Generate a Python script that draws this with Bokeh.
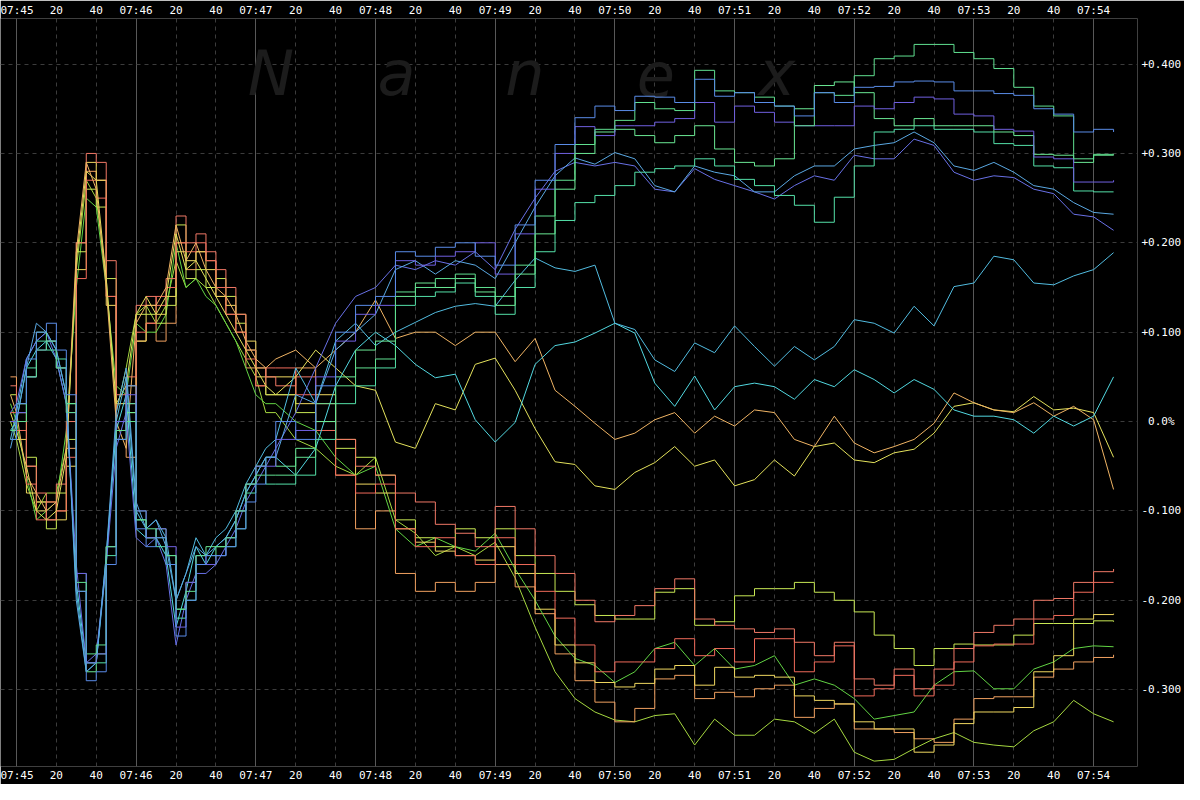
from bokeh.plotting import figure
from bokeh.models import FixedTicker, LinearAxis, Grid, Label, Range1d
from bokeh.embed import file_html
from bokeh.resources import INLINE

# time axis: seconds after 07:45:00
t_sec = [-3, 0, 5, 10, 15, 20, 25, 30, 35, 40, 45, 50, 55, 60, 65, 70, 75, 80, 85, 90,
         95, 100, 105, 110, 115, 120, 125,
         130, 140, 150, 160, 170, 180, 190, 200, 210, 220, 230, 240, 250, 260, 270, 280,
         290, 300, 310, 320, 330, 340, 350, 360, 370, 380, 390, 400, 410, 420, 430, 440,
         450, 460, 470, 480, 490, 500, 510, 520, 530, 540, 550]

# x tick positions (seconds) and their labels
x_ticks = [0, 20, 40, 60, 80, 100, 120, 140, 160, 180, 200, 220, 240, 260, 280, 300,
           320, 340, 360, 380, 400, 420, 440, 460, 480, 500, 520, 540]
x_tick_labels = ["07:45", "20", "40", "07:46", "20", "40", "07:47", "20", "40",
                 "07:48", "20", "40", "07:49", "20", "40", "07:50", "20", "40",
                 "07:51", "20", "40", "07:52", "20", "40", "07:53", "20", "40", "07:54"]
minute_ticks = [0, 60, 120, 180, 240, 300, 360, 420, 480, 540]

# y ticks in thousandths of a percent and labels
y_ticks = [-300, -200, -100, 0, 100, 200, 300, 400]
y_tick_labels = ["-0.300", "-0.200", "-0.100", "\u00a00.0%", "+0.100", "+0.200", "+0.300", "+0.400"]

# series values (thousandths of a percent)
r1 = [40, 10, -50, -80, -110, -70, 0, 200, 300, 290, 180, 30, 20, 130, 140, 130, 160, 230, 200, 210, 190, 170, 150, 120, 80, 60, 50,
      40, 50, 20, -20, -50, -60, -80, -90, -115, -125, -140, -95, -120, -150, -170, -200,
      -224, -217, -206, -187, -176, -221, -228, -232, -236, -232, -247, -262, -247, -288, -295, -277, -299, -277, -254, -236, -228, -221, -200, -198, -180, -168, -165]
r2 = [10, -10, -70, -110, -90, -100, -40, 160, 270, 250, 140, -10, 50, 100, 110, 140, 150, 200, 190, 200, 180, 150, 120, 100, 70, 40, 60,
      60, 30, -10, -60, -80, -70, -120, -140, -130, -150, -160, -130, -160, -190, -220, -250,
      -280, -269, -269, -254, -243, -262, -254, -269, -243, -243, -280, -269, -251, -307, -299, -284, -307, -295, -269, -251, -249, -249, -221, -217, -191, -180, -180]
yg1 = [30, 20, -40, -90, -120, -80, -20, 190, 260, 240, 160, 0, 10, 120, 120, 110, 130, 220, 160, 170, 150, 160, 140, 110, 80, 60, 30,
       30, 10, 0, -30, -40, -60, -110, -130, -140, -120, -130, -120, -150, -170, -190, -205,
       -217, -221, -221, -191, -187, -228, -224, -195, -187, -187, -180, -191, -200, -213, -239, -254, -273, -254, -249, -250, -250, -239, -226, -226, -226, -223, -224]
y2 = [0, -20, -80, -100, -90, -110, -50, 170, 290, 270, 130, 20, 40, 90, 130, 120, 140, 190, 180, 190, 170, 140, 130, 120, 90, 50, 50,
      50, 20, 30, -20, -70, -80, -120, -135, -145, -150, -155, -140, -170, -210, -250, -270,
      -292, -297, -293, -277, -273, -295, -275, -286, -284, -286, -307, -312, -316, -336, -344, -344, -370, -362, -338, -325, -325, -320, -280, -262, -221, -216, -215]
g4 = [20, 0, -60, -110, -100, -90, -10, 150, 250, 240, 150, 40, 30, 110, 100, 100, 120, 200, 150, 160, 140, 130, 110, 90, 60, 30, 20,
      20, 0, -10, -40, -60, -50, -120, -140, -130, -140, -145, -125, -165, -200, -240, -265,
      -273, -292, -280, -254, -247, -273, -254, -277, -273, -262, -295, -288, -295, -310, -333, -329, -325, -295, -280, -279, -299, -299, -277, -269, -254, -251, -252]
o2 = [50, 10, -50, -90, -110, -100, -30, 200, 280, 270, 140, -20, -40, 90, 110, 90, 110, 200, 170, 190, 180, 140, 120, 100, 60, 40, 30,
      30, 60, 0, -60, -120, -100, -170, -190, -180, -190, -180, -160, -185, -215, -260, -290,
      -314, -336, -321, -288, -284, -310, -303, -308, -299, -295, -331, -321, -316, -344, -344, -348, -355, -359, -333, -310, -308, -308, -286, -277, -269, -264, -261]
yg2 = [0, -20, -70, -100, -80, -80, -30, 170, 270, 250, 160, 10, 60, 120, 130, 110, 130, 180, 150, 160, 150, 130, 110, 90, 70, 50, 10,
       10, -20, -30, -50, -60, -40, -110, -125, -150, -140, -150, -135, -175, -230, -280, -310,
       -325, -334, -336, -329, -327, -362, -333, -351, -351, -333, -336, -349, -333, -370, -380, -378, -366, -355, -348, -359, -362, -364, -346, -336, -312, -327, -336]
o1 = [30, 10, -60, -80, -100, -90, -30, 190, 290, 260, 150, 0, -30, 110, 130, 130, 150, 220, 180, 200, 170, 150, 140, 120, 90, 70, 60,
      70, 80, 60, 80, 100, 136, 93, 100, 100, 85, 100, 100, 67, 93, 35, 17,
      -2, -20, -13, 2, 10, -13, 6, -5, 13, 10, -20, -28, 6, -24, -35, -28, -20, -2, 32, 21, 13, 10, 21, 6, 17, 2, -76]
y1 = [10, -10, -50, -100, -110, -100, -40, 180, 280, 270, 160, 20, 40, 120, 140, 120, 140, 210, 170, 180, 160, 140, 120, 100, 80, 60, 40,
      30, 50, 80, 60, 40, 35, -23, -30, 20, 13, 64, 71, 35, -8, -45, -48,
      -72, -76, -57, -46, -28, -50, -43, -72, -65, -43, -61, -28, -24, -43, -46, -35, -31, -13, 17, 21, 13, 11, 28, 13, 15, 10, -40]
b1 = [-20, 20, 70, 100, 110, 80, 30, -190, -290, -280, -160, -20, 40, -120, -140, -130, -160, -240, -200, -160, -150, -150, -140, -120, -90, -70, -40,
      0, -20, 40, 100, 130, 140, 190, 185, 195, 200, 185, 175, 220, 270, 310, 340,
      353, 348, 364, 363, 357, 383, 364, 368, 357, 353, 342, 368, 357, 374, 375, 380, 381, 380, 370, 370, 367, 365, 350, 344, 324, 327, 324]
p1 = [0, 10, 50, 80, 90, 60, 10, -170, -270, -260, -140, 0, 30, -100, -130, -120, -140, -230, -180, -150, -160, -150, -130, -100, -70, -50, -50,
      -20, -10, 50, 90, 120, 130, 180, 175, 185, 190, 200, 165, 210, 260, 300, 330,
      320, 331, 331, 335, 339, 357, 335, 353, 346, 335, 331, 331, 331, 353, 350, 357, 363, 361, 344, 342, 327, 325, 296, 294, 268, 268, 270]
b2 = [-30, 0, 60, 110, 100, 80, 30, -200, -280, -270, -150, 10, 60, -90, -120, -110, -140, -200, -170, -140, -150, -140, -130, -110, -80, -60, -40,
      -40, 30, 20, 80, 100, 120, 170, 180, 165, 180, 175, 160, 200, 240, 275, 295,
      288, 301, 294, 264, 257, 286, 279, 275, 257, 257, 275, 286, 286, 305, 309, 312, 324, 312, 286, 281, 290, 279, 264, 260, 245, 234, 232]
p2 = [10, 20, 70, 90, 100, 70, 20, -160, -270, -260, -160, -30, 10, -130, -140, -130, -160, -250, -200, -170, -170, -160, -140, -120, -90, -70, -50,
      -30, 10, 60, 110, 140, 150, 175, 170, 180, 175, 190, 170, 215, 250, 280, 290,
      286, 290, 286, 260, 257, 283, 271, 264, 257, 249, 264, 275, 270, 298, 294, 294, 316, 309, 279, 270, 275, 273, 260, 255, 232, 229, 214]
g1 = [-10, 0, 50, 80, 90, 60, 10, -180, -260, -250, -140, -10, 0, -110, -120, -130, -150, -210, -190, -150, -150, -140, -130, -100, -70, -60, -60,
      -60, -40, 20, 40, 60, 70, 145, 150, 160, 165, 150, 140, 175, 230, 270, 310,
      327, 337, 357, 350, 348, 393, 370, 368, 363, 353, 331, 368, 365, 387, 406, 409, 422, 422, 413, 406, 395, 374, 353, 342, 294, 299, 299]
g2 = [-20, 10, 60, 90, 80, 70, 20, -170, -270, -270, -150, 0, 20, -100, -130, -140, -160, -220, -200, -160, -160, -150, -140, -120, -80, -50, -70,
      -70, -60, -20, 20, 40, 60, 130, 140, 145, 155, 140, 120, 150, 190, 225, 245,
      253, 264, 279, 283, 286, 294, 286, 271, 264, 253, 242, 223, 251, 286, 324, 327, 331, 327, 327, 324, 311, 309, 286, 284, 258, 257, 257]
g3 = [0, 20, 50, 100, 90, 60, 20, -190, -280, -260, -140, -20, 10, -110, -130, -120, -150, -210, -180, -150, -140, -140, -130, -100, -70, -50, -40,
      -50, -30, 0, 50, 80, 90, 140, 155, 150, 160, 145, 130, 165, 210, 260, 300,
      324, 327, 320, 312, 320, 331, 305, 290, 286, 294, 350, 376, 380, 368, 339, 331, 339, 331, 331, 331, 324, 320, 299, 298, 290, 298, 299]
c1 = [-20, 10, 70, 90, 100, 80, 30, -190, -280, -270, -160, 0, 50, -100, -120, -110, -130, -200, -170, -130, -150, -130, -120, -100, -70, -50, -30,
      -20, 60, 20, 90, 110, 85, 100, 111, 122, 129, 132, 129, 158, 183, 172, 168,
      175, 110, 103, 69, 56, 88, 77, 107, 84, 62, 84, 69, 84, 114, 110, 99, 129, 107, 151, 155, 185, 181, 155, 153, 163, 170, 189]
c2 = [-10, 0, 60, 80, 90, 70, 20, -180, -270, -270, -150, -10, 30, -120, -130, -130, -150, -230, -190, -140, -160, -140, -130, -110, -80, -60, -40,
      -40, -60, -30, 40, 80, 100, 85, 64, 49, 53, 2, -23, -1, 64, 85, 89,
      99, 110, 99, 43, 17, 51, 13, 39, 43, 39, 25, 47, 39, 58, 47, 32, 47, 36, 13, 6, 6, 2, -13, 6, -5, 6, 50]

series = [
    (yg2, "#a6d840", "line"), (o2, "#f0a060", "step"), (g4, "#62d444", "line"),
    (y2, "#f0d860", "step"), (yg1, "#c8e854", "step"), (r2, "#f06a5a", "step"),
    (r1, "#f07866", "step"), (y1, "#e4e25c", "line"), (o1, "#f0b464", "line"),
    (c2, "#52d8e0", "line"), (c1, "#52bce0", "line"),
    (p2, "#6870e6", "line"), (b2, "#5aa8e2", "line"), (g2, "#54e0a8", "step"),
    (g3, "#6ae894", "step"), (p1, "#7060e0", "step"), (g1, "#60e090", "step"),
    (b1, "#5a8ce8", "step"),
]
for vals, _, _ in series:
    if len(vals) != len(t_sec):
        raise ValueError("length mismatch %d" % len(vals))

p = figure(width=1184, height=784, output_backend="svg", toolbar_location=None,
           x_axis_location=None, y_axis_location=None,
           x_range=Range1d(-8, 562), y_range=Range1d(-386, 451),
           min_border_left=0, min_border_right=0, min_border_top=0, min_border_bottom=0)
p.background_fill_color = "black"
p.border_fill_color = "black"
p.outline_line_color = None
p.grid.visible = False

# grids
minor_ticks = [t for t in x_ticks if t not in minute_ticks]
p.add_layout(Grid(dimension=0, ticker=FixedTicker(ticks=minor_ticks),
                  grid_line_color="#3c3c3c", grid_line_dash="4 4", grid_line_width=1))
p.add_layout(Grid(dimension=0, ticker=FixedTicker(ticks=minute_ticks),
                  grid_line_color="#585858", grid_line_width=1))
p.add_layout(Grid(dimension=1, ticker=FixedTicker(ticks=y_ticks),
                  grid_line_color="#3c3c3c", grid_line_dash="4 4", grid_line_width=1))

# watermark
for letter, lx in zip(["N", "a", "n", "e", "x"], [116, 181, 245, 311, 372]):
    p.add_layout(Label(x=lx, y=389, text=letter, text_font="DejaVu Sans",
                       text_font_style="italic", text_font_size="62px",
                       text_color="#1c1c1c", text_baseline="alphabetic",
                       level="underlay"))

for vals, col, style in series:
    if style == "step":
        p.step(t_sec, vals, mode="after", line_color=col, line_width=1)
    else:
        p.line(t_sec, vals, line_color=col, line_width=1)

def style_axis(ax, standoff):
    ax.axis_line_color = None
    ax.major_tick_line_color = None
    ax.minor_tick_line_color = None
    ax.major_tick_out = 0
    ax.major_tick_in = 0
    ax.major_label_text_color = "white"
    ax.major_label_text_font = "DejaVu Sans Mono"
    ax.major_label_text_font_size = "11px"
    ax.major_label_standoff = standoff

x_over = {tk: lb for tk, lb in zip(x_ticks, x_tick_labels)}
for loc in ["above", "below"]:
    ax = LinearAxis(ticker=FixedTicker(ticks=x_ticks), major_label_overrides=x_over)
    style_axis(ax, 2)
    p.add_layout(ax, loc)

yax = LinearAxis(ticker=FixedTicker(ticks=y_ticks),
                 major_label_overrides={tk: lb for tk, lb in zip(y_ticks, y_tick_labels)})
style_axis(yax, 4)
p.add_layout(yax, "right")

open("out.html", "w").write(file_html(p, INLINE))
